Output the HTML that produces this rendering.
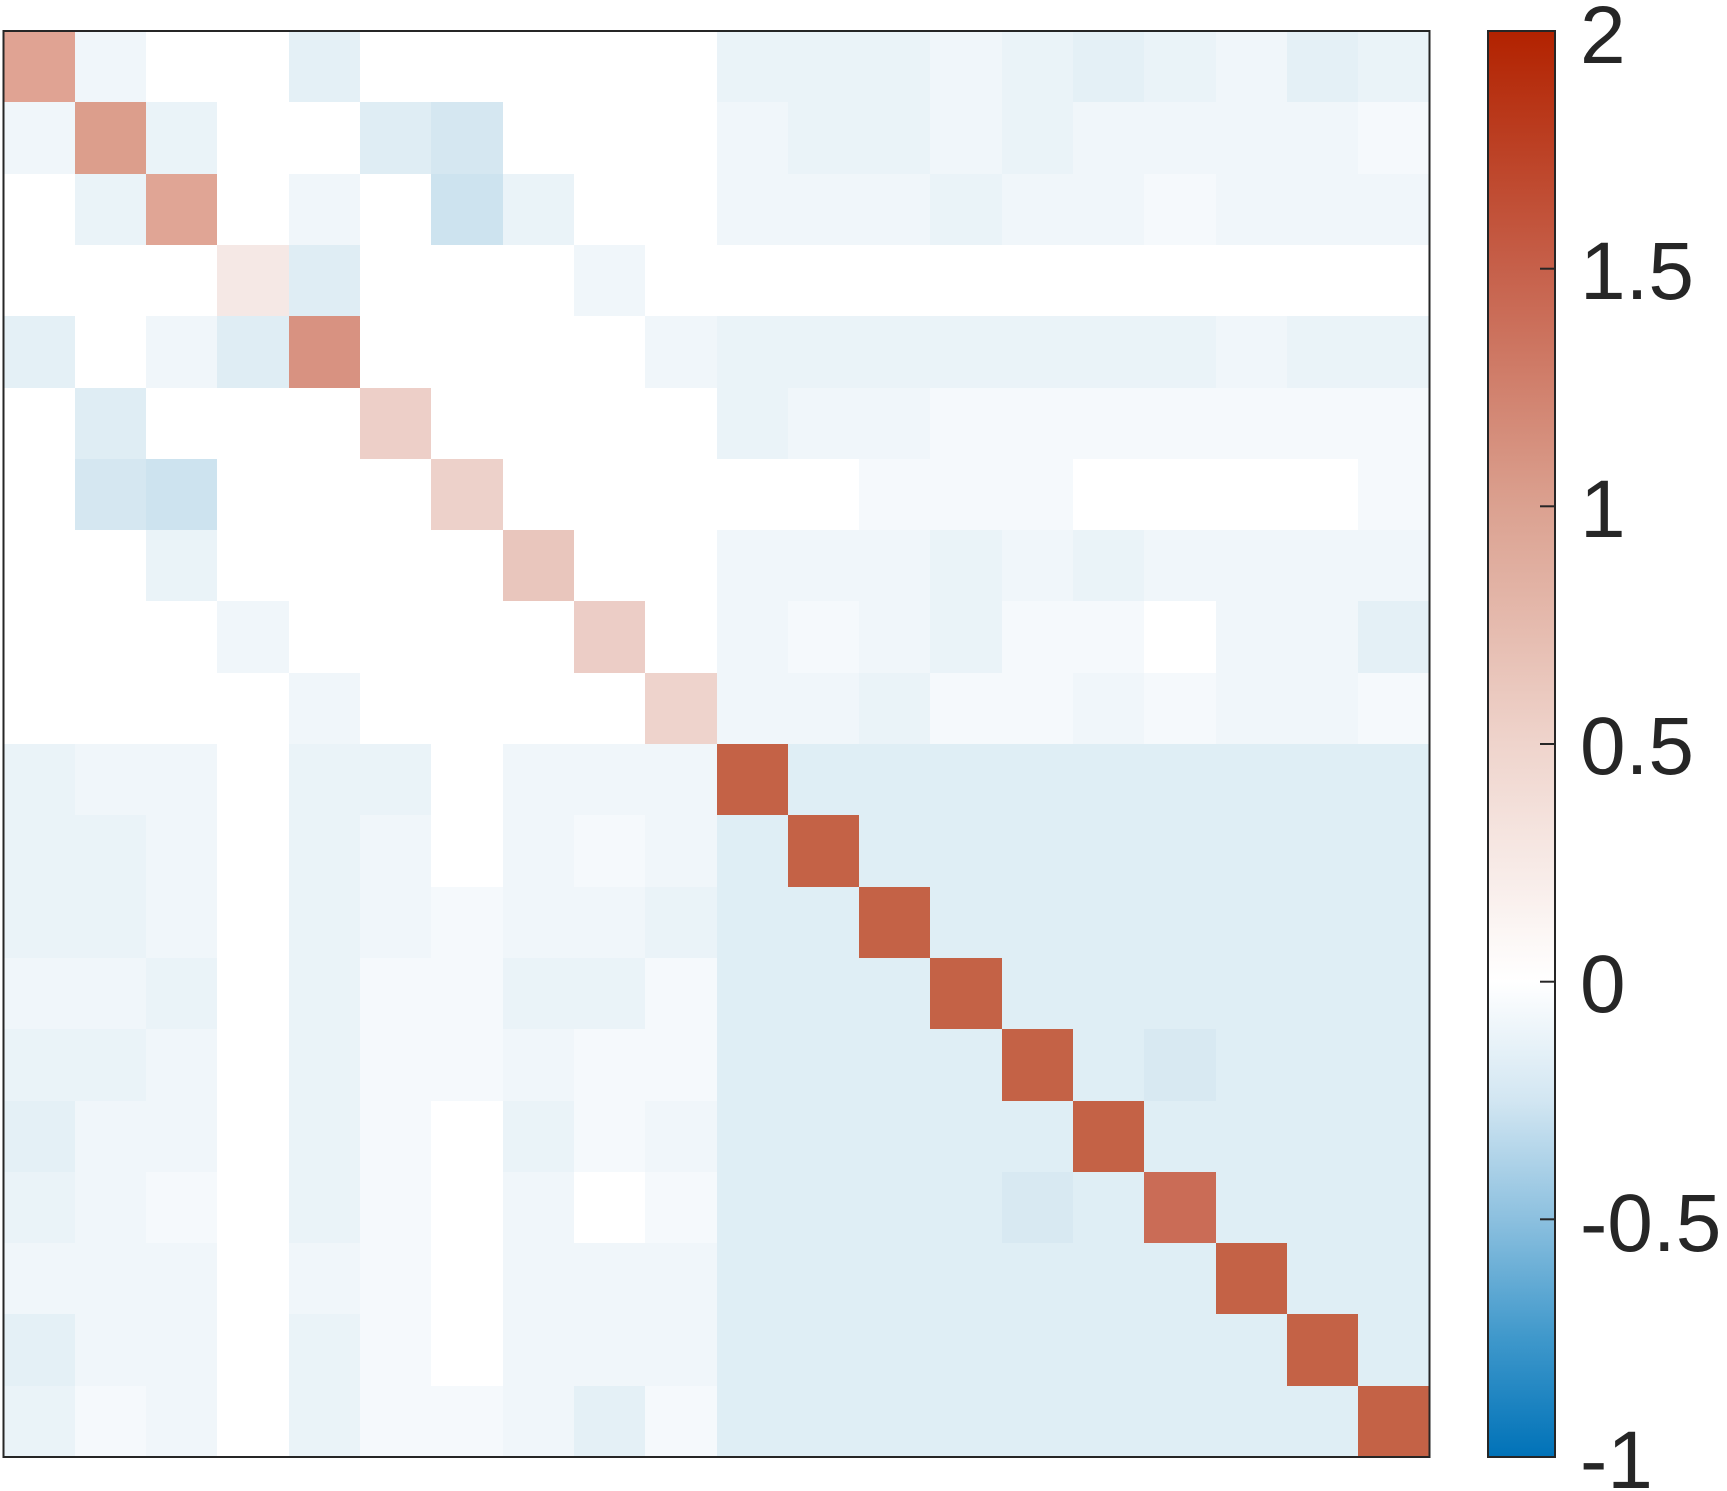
<!DOCTYPE html>
<html><head><meta charset="utf-8"><style>
html,body{margin:0;padding:0;background:#fff;}
svg{display:block;}
</style></head><body>
<svg id="s" width="1727" height="1491" viewBox="0 0 1727 1491" xmlns="http://www.w3.org/2000/svg">
<defs>
<linearGradient id="cb" x1="0" y1="0" x2="0" y2="1">
<stop offset="0" stop-color="#b22200"/>
<stop offset="0.1667" stop-color="#c6604a"/>
<stop offset="0.3333" stop-color="#dba190"/>
<stop offset="0.5" stop-color="#efd4cc"/>
<stop offset="0.6667" stop-color="#ffffff"/>
<stop offset="0.75" stop-color="#d2e6f2"/>
<stop offset="0.8333" stop-color="#8cc0df"/>
<stop offset="0.9167" stop-color="#3f98cb"/>
<stop offset="1" stop-color="#0072b8"/>
</linearGradient>
</defs>
<g id="cells" shape-rendering="crispEdges"></g>
<rect x="3.5" y="31" width="1426" height="1426" fill="none" stroke="#262626" stroke-width="2"/>
<rect x="1488" y="31" width="67" height="1426" fill="url(#cb)" stroke="#262626" stroke-width="2"/>
<g stroke="#262626" stroke-width="2">
<line x1="1540" x2="1555" y1="268.7" y2="268.7"/>
<line x1="1540" x2="1555" y1="506.3" y2="506.3"/>
<line x1="1540" x2="1555" y1="744" y2="744"/>
<line x1="1540" x2="1555" y1="981.7" y2="981.7"/>
<line x1="1540" x2="1555" y1="1219.3" y2="1219.3"/>
</g>
<g font-family="Liberation Sans, sans-serif" font-size="82" fill="#262626">
<text x="1580" y="63">2</text>
<text x="1580" y="299">1.5</text>
<text x="1580" y="537">1</text>
<text x="1580" y="774">0.5</text>
<text x="1580" y="1012">0</text>
<text x="1580" y="1251">-0.5</text>
<text x="1580" y="1488">-1</text>
</g>
</svg>
<script>
var P={W:'#ffffff','1':'#f5f9fc','2':'#f0f6fa','3':'#eaf3f8','4':'#e4f0f6','5':'#dfedf4','6':'#d5e7f1','7':'#cde3ef',B:'#dfeef5',K:'#d8e9f2'};
var rows=[
"A2WW4WWWWW33323432435",
"2A3WW56WWW2332322221",
"W3AW2W73WW2223221222",
"WWWA5WWW2WWWWWWWWWWW",
"4W25AWWWW23333333233",
"W5WWWAWWWW3221111111",
"W67WWWAWWWWW111WWWW1",
"WW3WWWWAWW2223232222",
"WWW2WWWWAW2123111W224",
"WWWW2WWWWA2231121221"
];
var diagTop=['#e0a393','#dc9e8c','#e0a595','#f5e8e5','#d89281','#edcfc8','#edd1ca','#e9c6bd','#eccdc6','#eed3cc'];
var low=[
"3223W33W222",
"3332W32W212",
"3332W32123",
"2233W31133W1",
"3332W31121",
"4222W31W312",
"3321W31W2W1",
"2222W21W222",
"4222W31W222",
"3122W31124 1"
];
low=["3223W33W222".slice(0,10),"3332W32W212".slice(0,10),"332W3212 23",""];
var L=[
['3','2','2','W','3','3','W','2','2','2'],
['3','3','2','W','3','2','W','2','1','2'],
['3','3','2','W','3','2','1','2','2','3'],
['2','2','3','W','3','1','1','3','3','1'],
['3','3','2','W','3','1','1','2','1','1'],
['4','2','2','W','3','1','W','3','1','2'],
['3','2','1','W','3','1','W','2','W','1'],
['2','2','2','W','2','1','W','2','2','2'],
['4','2','2','W','3','1','W','2','2','2'],
['3','1','2','W','3','1','1','2','4','1']
];
var U=[
['A','2','W','W','4','W','W','W','W','W','3','3','3','2','3','4','3','2','4','3'],
['2','A','3','W','W','5','6','W','W','W','2','3','3','2','3','2','2','2','2','1'],
['W','3','A','W','2','W','7','3','W','W','2','2','2','3','2','2','1','2','2','2'],
['W','W','W','A','5','W','W','W','2','W','W','W','W','W','W','W','W','W','W','W'],
['4','W','2','5','A','W','W','W','W','2','3','3','3','3','3','3','3','2','3','3'],
['W','5','W','W','W','A','W','W','W','W','3','2','2','1','1','1','1','1','1','1'],
['W','6','7','W','W','W','A','W','W','W','W','W','1','1','1','W','W','W','W','1'],
['W','W','3','W','W','W','W','A','W','W','2','2','2','3','2','3','2','2','2','2'],
['W','W','W','2','W','W','W','W','A','W','2','1','2','3','1','1','W','2','2','4'],
['W','W','W','W','2','W','W','W','W','A','2','2','3','1','1','2','1','2','2','1']
];
var g=document.getElementById('cells'),x0=3.5,y0=31,c=1426/20,h='';
for(var r=0;r<20;r++)for(var k=0;k<20;k++){
 var col;
 if(r<10){var v=U[r][k];col=v==='A'?diagTop[r]:P[v];}
 else if(k<10){col=P[L[r-10][k]];}
 else{ if(r===k) col=(r===16?'#ca6c56':'#c46246'); else if((r===14&&k===16)||(r===16&&k===14)) col=P.K; else col=P.B; }
 var xa=Math.round(x0+k*c),xb=Math.round(x0+(k+1)*c),ya=Math.round(y0+r*c),yb=Math.round(y0+(r+1)*c);
 h+='<rect x="'+xa+'" y="'+ya+'" width="'+(xb-xa)+'" height="'+(yb-ya)+'" fill="'+col+'"/>';
}
g.innerHTML=h;
</script>
</body></html>
